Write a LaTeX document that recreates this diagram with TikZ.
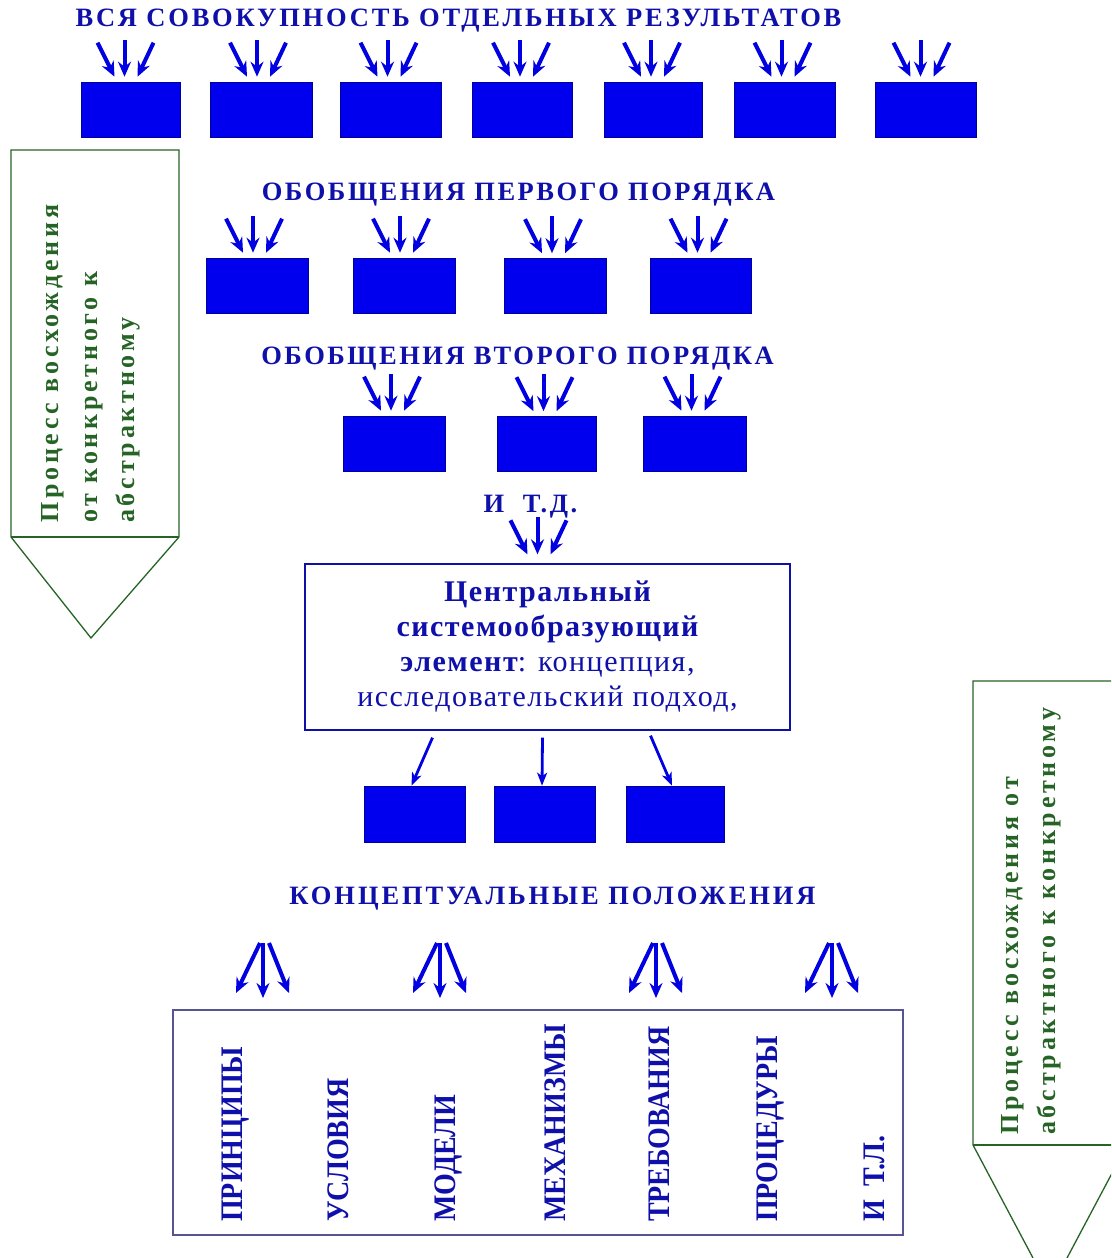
\documentclass[tikz,border=0pt]{standalone}
\usepackage{fontspec}
\setmainfont{Liberation Serif}
\usetikzlibrary{arrows.meta,calc}
\definecolor{boxblue}{RGB}{0,0,238}
\definecolor{txtblue}{RGB}{15,15,170}
\definecolor{arrblue}{RGB}{0,0,225}
\definecolor{pgreen}{RGB}{38,100,38}
\definecolor{framec}{RGB}{85,85,150}
\newcommand\convg[3]{%
  \coordinate (#1-sl) at ($(#1.north)+(#2-27,-#3-34)$);
  \coordinate (#1-sc) at ($(#1.north)+(#2,-#3-37)$);
  \coordinate (#1-sr) at ($(#1.north)+(#2+29,-#3-34)$);
  \coordinate (#1-tl) at ($(#1.north)+(#2-10,-#3)$);
  \coordinate (#1-tc) at ($(#1.north)+(#2,-#3)$);
  \coordinate (#1-tr) at ($(#1.north)+(#2+13,-#3)$);
  \draw[thk] (#1-sl) -- (#1-tl);
  \draw[thk] (#1-sc) -- (#1-tc);
  \draw[thk] (#1-sr) -- (#1-tr);}
\newcommand\divg[2]{%
  \coordinate (#1-sl) at (#2-3,943);
  \coordinate (#1-sc) at (#2,943);
  \coordinate (#1-sr) at (#2+6,943);
  \coordinate (#1-tl) at (#2-27,993);
  \coordinate (#1-tc) at (#2,998);
  \coordinate (#1-tr) at (#2+26,993);
  \draw[thk] (#1-sl) -- (#1-tl);
  \draw[thk] (#1-sc) -- (#1-tc);
  \draw[thk] (#1-sr) -- (#1-tr);}
\newcommand\vw[1]{\scalebox{1}[1.12]{#1}}
\begin{document}
\begin{tikzpicture}[x=1pt,y=-1pt,
  blk/.style={fill=boxblue, draw=boxblue!65!black, line width=0.6pt, minimum height=55pt, inner sep=0pt},
  thk/.style={arrblue, line width=4pt, -{Stealth[length=15pt,width=13pt,inset=5pt]}},
  thn/.style={arrblue, line width=2.8pt, -{Stealth[length=13pt,width=10pt,inset=3.5pt]}},
  ttl/.style={txtblue, inner sep=0pt, anchor=base, font=\fontsize{26.5}{30}\selectfont\bfseries},
  vword/.style={txtblue, inner sep=0pt, rotate=90, anchor=base west, font=\fontsize{28}{32}\selectfont\bfseries},
  gtxt/.style={pgreen, inner sep=0pt, rotate=90, anchor=base west, font=\fontsize{26}{30}\selectfont\bfseries\addfontfeatures{LetterSpace=14.5}},
  frm/.style={draw=framec, line width=1.3pt, inner sep=0pt}]
\useasboundingbox (0,0) rectangle (1111,1258);
\clip (0,0) rectangle (1111,1258);
\fill[white] (0,0) rectangle (1111,1258);

% titles
\node[ttl] (t1) at (458.5,27) {\addfontfeatures{LetterSpace=10.5}ВСЯ СОВОКУПНОСТЬ ОТДЕЛЬНЫХ РЕЗУЛЬТАТОВ};
\node[ttl] (t2) at (518.5,200) {\addfontfeatures{LetterSpace=9.5}ОБОБЩЕНИЯ ПЕРВОГО ПОРЯДКА};
\node[ttl] (t3) at (517.5,364) {\addfontfeatures{LetterSpace=9.5}ОБОБЩЕНИЯ ВТОРОГО ПОРЯДКА};
\node[ttl] (t4) at (552.5,904) {\addfontfeatures{LetterSpace=11}КОНЦЕПТУАЛЬНЫЕ ПОЛОЖЕНИЯ};
\node[ttl] (etc) at (530.5,512) {\addfontfeatures{LetterSpace=10}И\ \ Т.Д.};

% row 1
\node[blk, minimum width=99pt]  (a1) at (130.5,109.5) {};
\node[blk, minimum width=102pt] (a2) at (261,109.5) {};
\node[blk, minimum width=101pt] (a3) at (390.5,109.5) {};
\node[blk, minimum width=100pt] (a4) at (522,109.5) {};
\node[blk, minimum width=98pt]  (a5) at (653,109.5) {};
\node[blk, minimum width=101pt] (a6) at (784.5,109.5) {};
\node[blk, minimum width=101pt] (a7) at (925.5,109.5) {};
% row 2
\node[blk, minimum width=102pt] (b1) at (257,285.5) {};
\node[blk, minimum width=102pt] (b2) at (404,285.5) {};
\node[blk, minimum width=102pt] (b3) at (555,286) {};
\node[blk, minimum width=101pt] (b4) at (700.5,285.5) {};
% row 3
\node[blk, minimum width=102pt] (c1) at (394,443.5) {};
\node[blk, minimum width=99pt]  (c2) at (546.5,444) {};
\node[blk, minimum width=103pt] (c3) at (694.5,443.5) {};
% central
\node[frm, minimum width=485pt, minimum height=166pt, txtblue, align=center,
      font=\fontsize{30}{35}\selectfont\addfontfeatures{LetterSpace=5}] (cen) at (547.5,647)
  {{\bfseries Центральный}\\
   {\bfseries системообразующий}\\
   {\bfseries элемент}: концепция,\\
   исследовательский подход,};
% row 4
\node[blk, minimum width=101pt, minimum height=56pt] (d1) at (414.5,814) {};
\node[blk, minimum width=101pt, minimum height=56pt] (d2) at (544.5,814) {};
\node[blk, minimum width=98pt, minimum height=56pt]  (d3) at (675,814) {};

% converging arrows
\convg{a1}{-6}{5}\convg{a2}{-4}{5}\convg{a3}{-3}{5}\convg{a4}{-2}{5}
\convg{a5}{-2}{5}\convg{a6}{-3}{5}\convg{a7}{-5}{5}
\convg{b1}{-4}{5}\convg{b2}{-4}{5}\convg{b3}{-3}{5}\convg{b4}{-3}{5}
\convg{c1}{-3}{5}\convg{c2}{-3}{5}\convg{c3}{-3}{5}
\convg{cen}{-10}{9}

% central to row 4
\coordinate (cs1) at ($(cen.south)+(-115,7)$);
\coordinate (cs2) at ($(cen.south)+(-5,7)$);
\coordinate (cs3) at ($(cen.south)+(103,5)$);
\draw[thn] (cs1) -- ($(d1.north)+(-3,0)$);
\draw[thn] (cs2) -- ($(d2.north)+(-2.5,0)$);
\draw[thn] (cs3) -- ($(d3.north)+(-3,0)$);

% bottom box
\node[frm, minimum width=730pt, minimum height=225pt] (bot) at (538,1122.5) {};
\divg{g1}{263}\divg{g2}{440}\divg{g3}{656}\divg{g4}{832}
\node[vword] (w1) at (242,1222) {\vw{ПРИНЦИПЫ}};
\node[vword] (w2) at (348,1222) {\vw{УСЛОВИЯ}};
\node[vword] (w3) at (455,1222) {\vw{МОДЕЛИ}};
\node[vword] (w4) at (565,1222) {\vw{МЕХАНИЗМЫ}};
\node[vword] (w5) at (669,1222) {\vw{ТРЕБОВАНИЯ}};
\node[vword] (w6) at (777,1222) {\vw{ПРОЦЕДУРЫ}};
\node[vword] (w7) at (884,1222) {\vw{И\ \ Т.Л.}};

% left pentagon arrow
\draw[pgreen, line width=1.3pt, line join=miter] (11,150) -- (179,150) -- (179,537) -- (91,638) -- (11,537) -- cycle;
\draw[pgreen, line width=1.3pt] (11,537) -- (179,537);
\node[gtxt] (l1) at (58,523) {Процесс восхождения};
\node[gtxt] (l2) at (97,523) {от конкретного к};
\node[gtxt] (l3) at (134,523) {абстрактному};

% right pentagon arrow
\draw[pgreen, line width=1.3pt, line join=miter] (973,681) -- (1127,681) -- (1127,1145) -- (1050,1290) -- (973,1145) -- cycle;
\draw[pgreen, line width=1.3pt] (973,1145) -- (1127,1145);
\node[gtxt] (r1) at (1018,1135) {Процесс восхождения от};
\node[gtxt] (r2) at (1055,1135) {абстрактного к конкретному};
\end{tikzpicture}
\end{document}
